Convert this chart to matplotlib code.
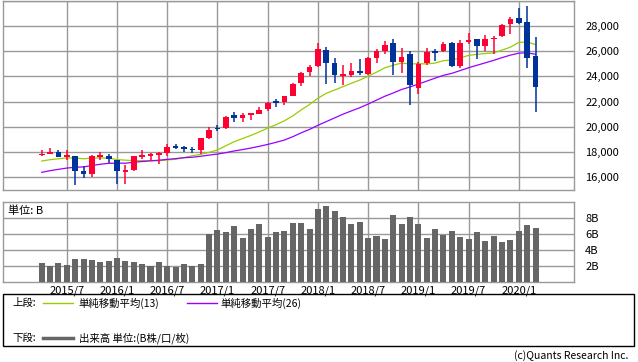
import matplotlib
matplotlib.use('Agg')
import matplotlib.pyplot as plt
from matplotlib.patches import Rectangle
from matplotlib.lines import Line2D
import numpy as np

plt.rcParams['font.family'] = ['Noto Sans CJK JP', 'DejaVu Sans']

months = ['2015/4', '2015/5', '2015/6', '2015/7', '2015/8', '2015/9', '2015/10', '2015/11', '2015/12',
          '2016/1', '2016/2', '2016/3', '2016/4', '2016/5', '2016/6', '2016/7', '2016/8', '2016/9',
          '2016/10', '2016/11', '2016/12',
          '2017/1', '2017/2', '2017/3', '2017/4', '2017/5', '2017/6', '2017/7', '2017/8', '2017/9',
          '2017/10', '2017/11', '2017/12',
          '2018/1', '2018/2', '2018/3', '2018/4', '2018/5', '2018/6', '2018/7', '2018/8', '2018/9',
          '2018/10', '2018/11', '2018/12',
          '2019/1', '2019/2', '2019/3', '2019/4', '2019/5', '2019/6', '2019/7', '2019/8', '2019/9',
          '2019/10', '2019/11', '2019/12',
          '2020/1', '2020/2', '2020/3']

opens = [17776, 17842, 18017, 17638, 17690, 16528, 16285, 17672, 17719,
         17405, 16451, 16545, 17661, 17784, 17755, 17924, 18405, 18401, 18279, 18158, 19149,
         19872, 19923, 20957, 20665, 20962, 21030, 21392, 21963, 21982, 22423, 23442, 24305,
         24809, 26083, 25024, 24076, 24117, 24416, 24161, 25461, 25992, 26598, 25096, 25780,
         23059, 25025, 25935, 25993, 26639, 24836, 26700, 26944, 26370, 26944, 27174, 28109,
         28638, 28319, 25590]
highs = [18175, 18351, 18128, 18137, 17698, 16933, 17799, 17977, 17888,
         17405, 16956, 17716, 18167, 17934, 18016, 18622, 18668, 18450, 18399, 19152, 19987,
         20125, 20851, 21170, 21071, 21113, 21536, 21929, 22179, 22420, 23485, 24328, 24876,
         26617, 26307, 25450, 24858, 25087, 25403, 25500, 26168, 26770, 26952, 26278, 25981,
         25106, 26241, 26156, 26696, 26728, 26907, 27399, 26957, 27306, 27190, 28175, 28702,
         29374, 29568, 27102]
lows = [17699, 17838, 17596, 17399, 15370, 15942, 16013, 17400, 17128,
        15451, 15503, 16511, 17484, 17331, 17063, 17713, 18247, 17992, 17959, 17884, 19006,
        19678, 19831, 20413, 20380, 20553, 20994, 21279, 21600, 21709, 22417, 23242, 24020,
        24741, 23360, 23509, 23344, 23907, 24077, 24074, 25044, 25803, 24122, 24268, 21713,
        22638, 24884, 25208, 25950, 24775, 24680, 26531, 25339, 25978, 25743, 27094, 27325,
        28170, 24681, 21154]
closes = [17841, 18011, 17620, 17690, 16528, 16285, 17664, 17720, 17425,
          16466, 16517, 17685, 17774, 17787, 17930, 18432, 18401, 18308, 18142, 19124, 19763,
          19864, 20812, 20663, 20941, 21009, 21350, 21891, 21948, 22405, 23377, 24272, 24719,
          26149, 25029, 24103, 24163, 24416, 24271, 25415, 25965, 26458, 25116, 25538, 23327,
          24999, 25916, 25929, 26593, 24815, 26600, 26864, 26403, 26917, 27046, 28051, 28538,
          28256, 25409, 23185]

sma13 = [17291, 17401, 17471, 17537, 17534, 17472, 17520, 17545, 17514,
         17410, 17360, 17325, 17325, 17321, 17315, 17377, 17432, 17569, 17712, 17824, 17981,
         18169, 18503, 18822, 19072, 19321, 19595, 19900, 20171, 20479, 20868, 21340, 21770,
         22262, 22659, 22912, 23181, 23449, 23700, 24012, 24326, 24673, 24881, 25047, 24975,
         24996, 24978, 25047, 25239, 25289, 25457, 25657, 25733, 25806, 25851, 26077, 26308,
         26687, 26718, 26508]
sma26 = [16398, 16530, 16637, 16736, 16799, 16829, 16939, 17038, 17110,
         17125, 17123, 17199, 17255, 17306, 17358, 17424, 17485, 17552, 17592, 17672, 17763,
         17841, 17956, 18091, 18199, 18323, 18458, 18607, 18774, 18955, 19219, 19526, 19797,
         20121, 20414, 20708, 21002, 21261, 21510, 21804, 22113, 22422, 22680, 22958, 23157,
         23383, 23620, 23853, 24076, 24235, 24453, 24678, 24872, 25066, 25262, 25479, 25677,
         25831, 25857, 25743]

volume_b = [2.38, 2.0, 2.38, 2.09, 2.85, 2.85, 2.72, 2.51, 2.59,
            2.97, 2.59, 2.47, 2.22, 2.0, 2.47, 2.0, 1.84, 2.22, 2.0, 2.22, 6.01,
            6.52, 6.27, 7.03, 5.51, 6.64, 7.28, 5.63, 6.27, 6.39, 7.4, 7.4, 6.64,
            9.18, 9.47, 8.92, 8.16, 7.28, 7.53, 5.51, 5.76, 5.38, 8.42, 7.28, 8.16,
            7.28, 5.51, 6.64, 5.89, 6.39, 5.63, 5.38, 6.27, 5.13, 5.76, 5.0, 5.25,
            6.39, 7.15, 6.77]

xtick_labels = ['2015/7', '2016/1', '2016/7', '2017/1', '2017/7', '2018/1', '2018/7',
                '2019/1', '2019/7', '2020/1']
price_ticks = [16000, 18000, 20000, 22000, 24000, 26000, 28000]
vol_ticks = [2, 4, 6, 8]
vol_tick_labels = ['2B', '4B', '6B', '8B']

UP = '#FF0033'
DOWN = '#003399'
GREEN = '#99CC00'
PURPLE = '#9900FF'
GRID = '#999999'
BAR = '#666666'

W, H = 638, 362
fig = plt.figure(figsize=(W / 100, H / 100), dpi=100)

def fx(px):
    return px / W

def fy(py):
    return 1 - py / H

x = np.arange(len(months))
xt = [months.index(m) for m in xtick_labels]
x0 = (3 - 41.7) / 8.37
x1 = (574 - 41.7) / 8.37

ax = fig.add_axes([fx(3), fy(190), fx(574) - fx(3), (190 - 0.5) / H])
axv = fig.add_axes([fx(3), fy(281.5), fx(574) - fx(3), (281.5 - 201.5) / H])

for a in (ax, axv):
    a.set_xlim(x0, x1)
    for s in a.spines.values():
        s.set_color(GRID)
        s.set_linewidth(1.0)
    a.set_xticks(xt)
    a.grid(True, color=GRID, linewidth=1.0)
    a.set_axisbelow(True)
    a.yaxis.tick_right()
    a.tick_params(length=0, labelsize=8, pad=8)

ax.set_ylim(15000, 30000)
ax.set_yticks(price_ticks + [30000])
ax.set_yticklabels([f'{v:,}' for v in price_ticks] + [''])
ax.set_xticklabels([])

# MA lines
ax.plot(x, sma13, color=GREEN, lw=0.9, zorder=2)
ax.plot(x, sma26, color=PURPLE, lw=0.9, zorder=2)

# candles
body_w = 0.68
min_h = 140
for i in range(len(months)):
    o, h, l, c = opens[i], highs[i], lows[i], closes[i]
    col = UP if c > o else DOWN
    ax.vlines(x[i], l, h, color=col, lw=1.1, zorder=3)
    lo, hi = min(o, c), max(o, c)
    if hi - lo < min_h:
        mid = (hi + lo) / 2
        lo, hi = mid - min_h / 2, mid + min_h / 2
    ax.bar(x[i], hi - lo, bottom=lo, width=body_w, color=col, zorder=4, linewidth=0)

# volume
axv.set_ylim(0, 10.1)
axv.set_yticks(vol_ticks)
axv.set_yticklabels(vol_tick_labels)
axv.bar(x, volume_b, width=0.72, color=BAR, zorder=3, linewidth=0)
axv.set_xticklabels(xtick_labels)
axv.tick_params(axis='x', pad=3)
axv.text(0.009, 0.95, '単位: B', transform=axv.transAxes, ha='left', va='top', fontsize=8)

# legend box
fig.add_artist(Rectangle((fx(3), fy(346)), fx(634) - fx(3), (346 - 294) / H,
                         transform=fig.transFigure, fill=False, edgecolor='black', lw=1.0))
r1, r2 = 303, 338
fig.text(fx(12), fy(r1), '上段:', fontsize=7.5, va='center', ha='left')
fig.add_artist(Line2D([fx(43), fx(73)], [fy(r1), fy(r1)], color=GREEN, lw=1.0, transform=fig.transFigure))
fig.text(fx(78), fy(r1), '単純移動平均(13)', fontsize=7.5, va='center', ha='left')
fig.add_artist(Line2D([fx(187), fx(217)], [fy(r1), fy(r1)], color=PURPLE, lw=1.0, transform=fig.transFigure))
fig.text(fx(220), fy(r1), '単純移動平均(26)', fontsize=7.5, va='center', ha='left')
fig.text(fx(12), fy(r2), '下段:', fontsize=7.5, va='center', ha='left')
fig.add_artist(Line2D([fx(43), fx(73)], [fy(r2), fy(r2)], color=BAR, lw=2.5, transform=fig.transFigure))
fig.text(fx(79), fy(r2), '出来高 単位:(B株/口/枚)', fontsize=7.5, va='center', ha='left')

fig.text(fx(628), fy(356), '(c)Quants Research Inc.', fontsize=7.5, va='center', ha='right')

fig.savefig('out.png', dpi=100)
